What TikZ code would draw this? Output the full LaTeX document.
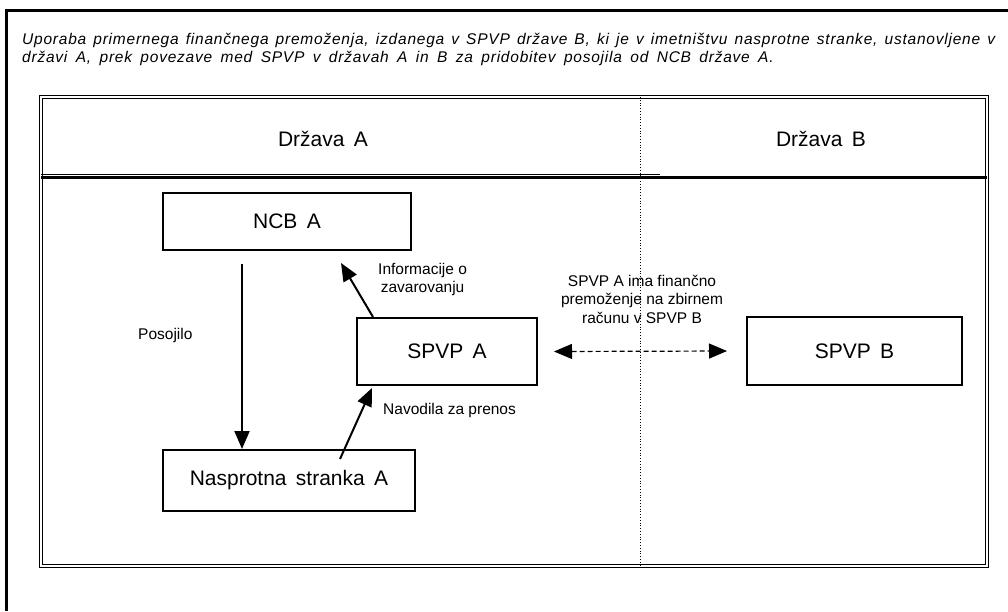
\documentclass[tikz,border=0pt]{standalone}
\usepackage{fontspec}
\setmainfont{Liberation Sans}
\newfontfamily\boxfont{Liberation Sans}[WordSpace=1.6]
\newfontfamily\titlefont{Liberation Sans}[LetterSpace=5,WordSpace=1.3]
\usetikzlibrary{arrows.meta}
\begin{document}
\begin{tikzpicture}[x=1pt,y=-1pt,
  box/.style={draw,line width=2pt,inner sep=0pt,font=\boxfont\fontsize{21}{25}\selectfont},
  lbl/.style={inner sep=0pt,font=\fontsize{15.5}{18.5}\selectfont},
  tip/.tip={Triangle[length=18pt,width=15pt]},
  arr/.style={line width=2pt,-tip},
  frame/.style={double,double distance=1.6pt,line width=1.4pt}]
\useasboundingbox (0,0) rectangle (1008,611);
% outer frame (top and left)
\draw[line width=3pt] (6,611) -- (6,10) -- (1008,10);
% title
\node[anchor=north west,inner sep=0pt,text width=973pt,align=justify,
  font=\titlefont\itshape\fontsize{15.5}{18}\selectfont] (title) at (22,33)
  {Uporaba primernega finančnega premoženja, izdanega v SPVP države B, ki je v imetništvu nasprotne stranke, ustanovljene v\linebreak
  \spaceskip=8.4pt plus 1pt državi A, prek povezave med SPVP v državah A in B za pridobitev posojila od NCB države A.};
% inner frame
\draw[frame] (41,97) rectangle (987,566);
\draw[line width=3pt] (41,177) -- (987,177);
\draw[line width=0.8pt] (41,174.2) -- (660,174.2);
\draw[dotted,line width=0.8pt] (640,97) -- (640,566);
% headers
\node[lbl,font=\boxfont\fontsize{21}{25}\selectfont] (hA) at (323,139) {Država A};
\node[lbl,font=\boxfont\fontsize{21}{25}\selectfont] (hB) at (821,139) {Država B};
% boxes
\node[box,minimum width=248pt,minimum height=57pt] (ncb) at (287,221.5) {NCB A};
\node[box,minimum width=180pt,minimum height=67pt] (spvpA) at (447,351.5) {SPVP A};
\node[box,minimum width=215pt,minimum height=68pt] (spvpB) at (854.5,351) {SPVP B};
\node[box,minimum width=252pt,minimum height=61pt] (nasp) at (289,480.5) {Nasprotna stranka A};
% arrows
\draw[arr] ([xshift=-45pt,yshift=-13pt]ncb.south) -- ([xshift=-47pt]nasp.north);
\node[lbl,anchor=west] (lposo) at (138,335) {Posojilo};
\draw[arr] ([xshift=17pt]spvpA.north west) -- ([xshift=-71pt,yshift=-12pt]ncb.south east);
\node[lbl,anchor=north west,align=center] (linfo) at (378,263) {Informacije o\\zavarovanju};
\draw[arr] ([xshift=51pt,yshift=-10pt]nasp.north) -- ([xshift=16pt,yshift=-2pt]spvpA.south west);
\node[lbl,anchor=west] (lnav) at (383,410) {Navodila za prenos};
\draw[line width=1.2pt,dash pattern=on 5pt off 3pt,tip-tip]
  ([xshift=16pt]spvpA.east) -- ([xshift=-19pt]spvpB.west);
\node[lbl,align=center] (lspvp) at (642,299) {SPVP A ima finančno\\premoženje na zbirnem\\računu v SPVP B};
\end{tikzpicture}
\end{document}
